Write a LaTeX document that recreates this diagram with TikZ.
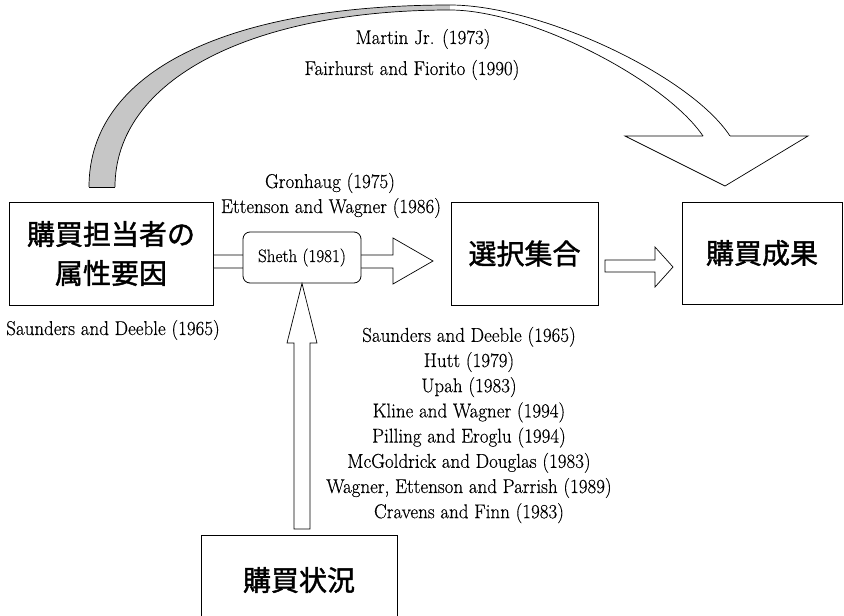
\documentclass[tikz,border=0pt]{standalone}
\usepackage{fontspec}
\setmainfont{Latin Modern Roman}[FakeStretch=0.95,FakeBold=0.4]
\newfontfamily\cjk{Noto Sans CJK JP}[FakeBold=1.5]
\usetikzlibrary{calc}
\begin{document}
\begin{tikzpicture}[x=1pt,y=-1pt,
  box/.style={draw,line width=0.8pt,fill=white,inner sep=0pt},
  jp/.style={font=\cjk\fontsize{28}{39}\selectfont},
  ref/.style={font=\fontsize{20}{24}\selectfont,inner sep=0pt},
  blk/.style={draw,line width=0.7pt,fill=white,line join=miter},
  rib/.style={line width=0.7pt}]
\useasboundingbox (0,0) rectangle (844,616);
\clip (0,0) rectangle (844,616);
% boxes
\node[box,jp,minimum width=204pt,minimum height=103pt,align=center] (attr) at (111,253.5) {購買担当者の\\属性要因};
\node[box,jp,minimum width=147pt,minimum height=103pt] (choice) at (524.5,253.5) {選択集合};
\node[box,jp,minimum width=160pt,minimum height=102pt] (result) at (762,253) {購買成果};
\node[box,jp,minimum width=196pt,minimum height=90pt] (sit) at (299,580) {購買状況};
% curved ribbon arrow
\fill[gray!45] (89,187) .. controls (89,70) and (230,5) .. (450,5) -- (450,10) .. controls (250,10) and (115,80) .. (115,187) -- cycle;
\fill[white] (450,5) .. controls (540,5) and (690,75) .. (730,136) -- (703,136) .. controls (665,80) and (530,10) .. (450,10) -- cycle;
\draw[rib] (89,187) .. controls (89,70) and (230,5) .. (450,5) .. controls (540,5) and (690,75) .. (730,136);
\draw[rib] (115,187) .. controls (115,80) and (250,10) .. (450,10) .. controls (530,10) and (665,80) .. (703,136);
\draw[rib] (89,187) -- (115,187);
\coordinate (tipc) at (725,186);
\fill[white] (703,136) -- (625,136) -- (tipc) -- (808,136) -- (730,136) -- cycle;
\draw[rib,line join=miter] (703,136) -- (625,136) -- (tipc) -- (808,136) -- (730,136);
% block arrows
\coordinate (tip1) at (433,261);
\draw[blk] (attr.east |- 0,255) -- (393,255) -- (393,238) -- (tip1) -- (393,284) -- (393,268) -- (attr.east |- 0,268) -- cycle;
\coordinate (tip2) at (673,267);
\draw[blk] (605,260) -- (655,260) -- (655,247) -- (tip2) -- (655,287) -- (655,272) -- (605,272) -- cycle;
\node[draw,rounded corners=7pt,fill=white,line width=0.8pt,minimum width=118pt,minimum height=51pt,font=\fontsize{18}{22}\selectfont] (sheth) at (302,257.5) {Sheth (1981)};
\draw[blk] (294,529) -- (294,343) -- (287,343) -- (sheth.south) -- (317,343) -- (310,343) -- (310,529) -- cycle;
% references
\node[ref] (m1) at (423,39) {Martin Jr. (1973)};
\node[ref] (m2) at (412,70) {Fairhurst and Fiorito (1990)};
\node[ref] (g1) at (330,183) {Gronhaug (1975)};
\node[ref] (g2) at (331,208) {Ettenson and Wagner (1986)};
\node[ref] (s0) at (113,330) {Saunders and Deeble (1965)};
\node[ref,align=center,font=\fontsize{20}{25.2}\selectfont] (list) at (469,425) {Saunders and Deeble (1965)\\Hutt (1979)\\Upah (1983)\\Kline and Wagner (1994)\\Pilling and Eroglu (1994)\\McGoldrick and Douglas (1983)\\Wagner, Ettenson and Parrish (1989)\\Cravens and Finn (1983)};
\end{tikzpicture}
\end{document}
